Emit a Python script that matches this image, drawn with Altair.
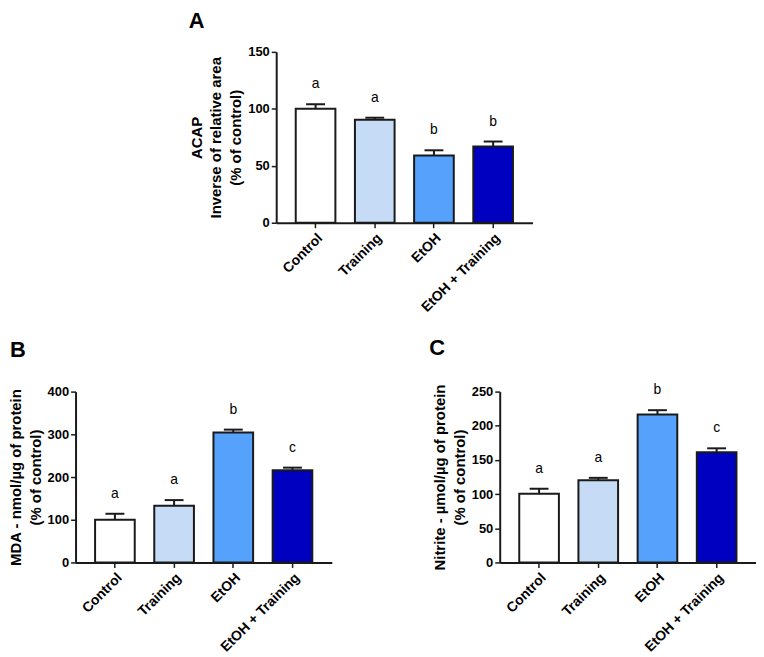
import altair as alt
import pandas as pd

groups = ["Control", "Training", "EtOH", "EtOH + Training"]
colors = ["#ffffff", "#c6dcf6", "#55a1fb", "#0000c0"]

a_mean = [100, 90.5, 59, 67]
a_err = [4, 1.7, 4.6, 4.3]
a_letters = ["a", "a", "b", "b"]

b_mean = [100, 133, 304, 216]
b_err = [14, 13, 7, 6]
b_letters = ["a", "a", "b", "c"]

c_mean = [100.5, 120.4, 216.5, 161.2]
c_err = [7.3, 3.4, 6.3, 5.8]
c_letters = ["a", "a", "b", "c"]

FONT = "Liberation Sans"
INK = "#1a1a1a"


def panel(mean, err, letters, ymax, ystep, ytitle, label, dx, toff):
    df = pd.DataFrame({
        "group": groups,
        "mean": mean,
        "upper": [m + e for m, e in zip(mean, err)],
        "letter": letters,
    })
    x = alt.X("group:N", sort=groups,
              scale=alt.Scale(paddingInner=0.33, paddingOuter=0.33),
              axis=alt.Axis(title=None, labelAngle=-45, labelFont=FONT,
                            labelFontSize=14, labelFontWeight="bold",
                            labelColor="black", domainColor=INK,
                            domainWidth=2, tickColor=INK, tickWidth=1.5,
                            tickSize=5, labelPadding=3))
    yscale = alt.Scale(domain=[0, ymax], nice=False)
    yaxis = alt.Axis(title=ytitle, values=list(range(0, ymax + 1, ystep)),
                     grid=False, labelFont=FONT, labelFontSize=13,
                     labelFontWeight="bold", labelColor="black",
                     domainColor=INK, domainWidth=2, tickColor=INK,
                     tickWidth=1.5, tickSize=5, labelPadding=2,
                     titleFont=FONT, titleFontSize=15, titleFontWeight="bold",
                     titleColor="black", titleLineHeight=20,
                     titlePadding=4)
    base = alt.Chart(df).encode(x=x)
    bars = base.mark_bar(stroke=INK, strokeWidth=2).encode(
        y=alt.Y("mean:Q", scale=yscale, axis=yaxis),
        fill=alt.Fill("group:N", scale=alt.Scale(domain=groups, range=colors),
                      legend=None),
    )
    rule = base.mark_rule(color=INK, strokeWidth=2).encode(
        y=alt.Y("mean:Q", scale=yscale, axis=yaxis), y2="upper:Q")
    cap = base.mark_tick(orient="horizontal", size=19, thickness=2,
                         color=INK, opacity=1).encode(
        y=alt.Y("upper:Q", scale=yscale, axis=yaxis))
    text = base.mark_text(dy=-20, fontSize=14, baseline="middle",
                          font=FONT, color="black").encode(
        y=alt.Y("upper:Q", scale=yscale, axis=yaxis), text="letter:N")
    return alt.layer(bars, rule, cap, text).properties(
        width=258, height=172,
        title=alt.TitleParams(label, anchor="start", frame="group", dx=dx,
                              fontSize=22, fontWeight="bold", font=FONT,
                              color="black", offset=toff),
    )


pA = panel(a_mean, a_err, a_letters, 150, 50,
           ["ACAP", "Inverse of relative area", "(% of control)"], "A", -88, 13)
pB = panel(b_mean, b_err, b_letters, 400, 100,
           ["MDA - nmol/µg of protein", "(% of control)"], "B", -66, 24)
pC = panel(c_mean, c_err, c_letters, 250, 50,
           ["Nitrite - µmol/µg of protein", "(% of control)"], "C", -71, 24)

spacer = alt.Chart(pd.DataFrame({"v": [0]})).mark_point(opacity=0, size=0).encode(
    x=alt.X("v:Q", axis=None), y=alt.Y("v:Q", axis=None)
).properties(width=114, height=10)

top = alt.hconcat(spacer, pA, spacing=0)
bottom = alt.hconcat(pB, pC, spacing=98)

chart = alt.vconcat(top, bottom, spacing=21).properties(padding=0).configure_view(
    stroke=None
).configure_concat(spacing=0)

chart.save("out.html", embed_options={"renderer": "svg", "actions": False})
